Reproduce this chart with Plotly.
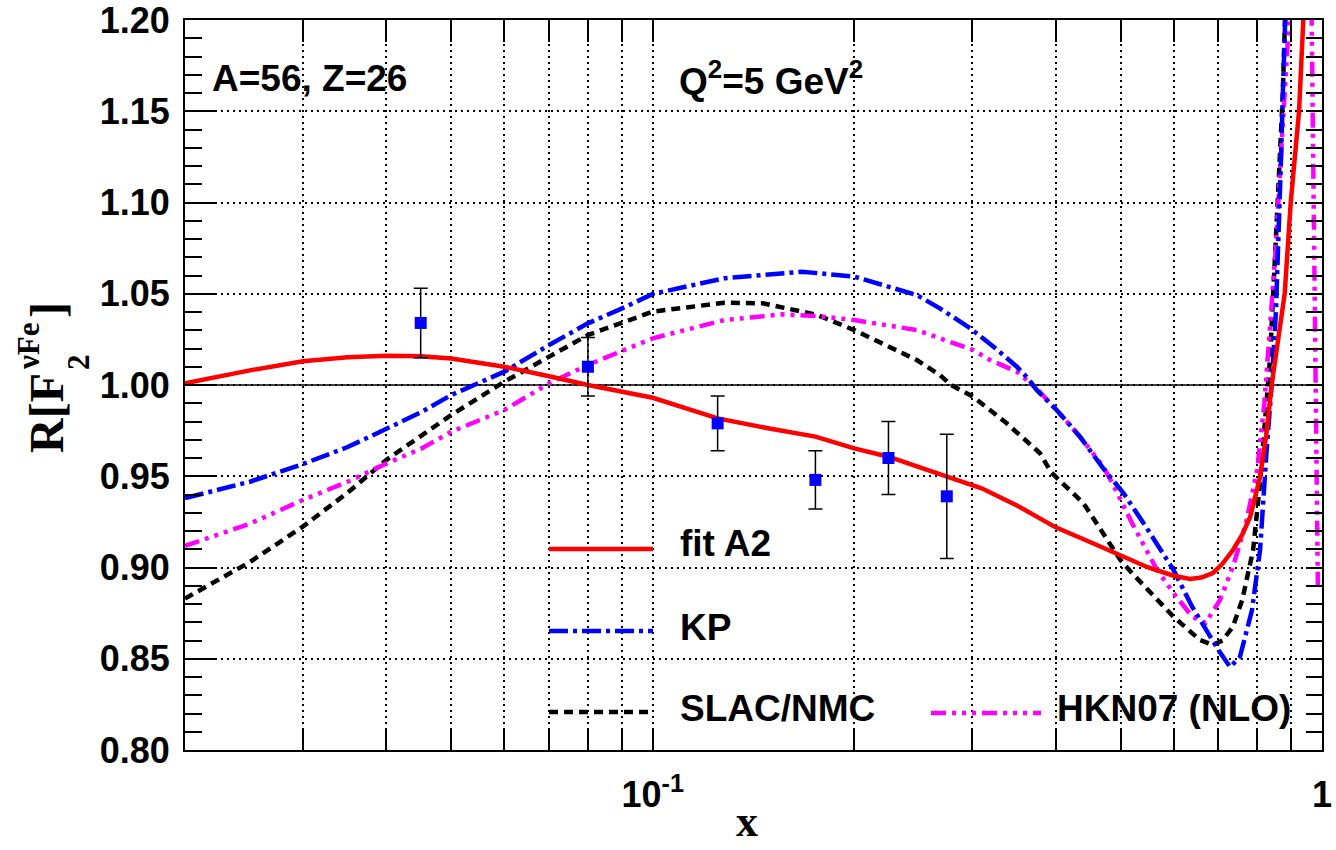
import math
import plotly.graph_objects as go

# ---------------- data ----------------
x_fit = [0.02, 0.025, 0.03, 0.035, 0.04, 0.045, 0.05, 0.06, 0.07, 0.08, 0.1, 0.125, 0.15,
         0.175, 0.2, 0.225, 0.25, 0.275, 0.31, 0.35, 0.4, 0.45, 0.5, 0.55, 0.6, 0.635, 0.66,
         0.687, 0.71, 0.736, 0.76, 0.781, 0.808, 0.825, 0.841, 0.86, 0.8795, 0.898, 0.924,
         0.9377, 0.95]
y_fit = [1.001, 1.008, 1.013, 1.0152, 1.016, 1.0158, 1.0145, 1.010, 1.0048, 1.000, 0.993,
         0.9817, 0.976, 0.9717, 0.9653, 0.9607, 0.955, 0.9498, 0.9434, 0.934, 0.922, 0.914,
         0.9065, 0.900, 0.8955, 0.8937, 0.8945, 0.897, 0.902, 0.9096, 0.918, 0.9277, 0.9496,
         0.972, 1.000, 1.024, 1.050, 1.100, 1.150, 1.200, 1.25]

x_kp = [0.02, 0.025, 0.03, 0.035, 0.04, 0.045, 0.05, 0.06, 0.07, 0.08, 0.09, 0.1, 0.128,
        0.15, 0.167, 0.2, 0.248, 0.2685, 0.281, 0.298, 0.323, 0.35, 0.3637, 0.3746, 0.4013,
        0.4348, 0.4711, 0.505, 0.546, 0.6, 0.64, 0.7, 0.729, 0.754, 0.786, 0.808, 0.8266,
        0.842, 0.8536, 0.8625, 0.8684, 0.8743, 0.8805, 0.8955]
y_kp = [0.938, 0.947, 0.9567, 0.966, 0.976, 0.985, 0.9945, 1.0073, 1.0219, 1.0338, 1.042,
        1.0499, 1.0585, 1.061, 1.0621, 1.0594, 1.0493, 1.042, 1.0374, 1.0311, 1.021, 1.01,
        1.0036, 0.9973, 0.9863, 0.9717, 0.9543, 0.9408, 0.9222, 0.8986, 0.8784, 0.8548,
        0.8455, 0.851, 0.8767, 0.9096, 0.9644, 1.0027, 1.0411, 1.0849, 1.1233, 1.1616, 1.20,
        1.28]

x_slac = [0.02, 0.025, 0.03, 0.035, 0.04, 0.045, 0.05, 0.06, 0.07, 0.08, 0.1, 0.128, 0.146,
          0.176, 0.2, 0.248, 0.2685, 0.279, 0.301, 0.338, 0.379, 0.394, 0.44, 0.5, 0.52, 0.6,
          0.657, 0.687, 0.71, 0.736, 0.76, 0.789, 0.808, 0.836, 0.8506, 0.8595, 0.8654,
          0.8733, 0.8805, 0.89]
y_slac = [0.883, 0.903, 0.9224, 0.941, 0.959, 0.972, 0.9836, 1.0018, 1.0152, 1.0274, 1.0402,
          1.0451, 1.0448, 1.0384, 1.0301, 1.0137, 1.0055, 1.0, 0.9936, 0.979, 0.9626, 0.952,
          0.9353, 0.904, 0.897, 0.873, 0.8603, 0.8575, 0.860, 0.8676, 0.8822, 0.9096, 0.9463,
          1.0137, 1.070, 1.1014, 1.124, 1.157, 1.20, 1.26]

x_hkn = [0.02, 0.025, 0.03, 0.035, 0.04, 0.045, 0.05, 0.06, 0.07, 0.08, 0.1, 0.128, 0.156,
         0.176, 0.2, 0.248, 0.2685, 0.301, 0.319, 0.35, 0.3746, 0.4013, 0.4348, 0.4711, 0.486,
         0.52, 0.567, 0.6, 0.64, 0.67, 0.704, 0.736, 0.77, 0.80, 0.82, 0.836, 0.853, 0.868,
         0.88, 0.893, 0.95, 0.986]
y_hkn = [0.9118, 0.924, 0.937, 0.947, 0.957, 0.965, 0.9744, 0.9863, 1.0009, 1.011, 1.0256,
         1.0356, 1.0387, 1.0378, 1.0356, 1.0301, 1.0256, 1.0192, 1.0137, 1.0073, 0.998,
         0.9863, 0.9717, 0.9553, 0.9463, 0.9244, 0.8986, 0.886, 0.873, 0.8696, 0.8822,
         0.9004, 0.9244, 0.9534, 0.99, 1.03, 1.075, 1.125, 1.16, 1.20, 1.43, 0.887]

x_data = [0.045, 0.080, 0.125, 0.175, 0.225, 0.275]
y_data = [1.034, 1.010, 0.979, 0.948, 0.960, 0.939]
e_data = [0.019, 0.016, 0.015, 0.016, 0.020, 0.034]

x_minor_ticks = [0.03, 0.04, 0.05, 0.06, 0.07, 0.08, 0.09, 0.2, 0.3, 0.4, 0.5, 0.6,
                 0.7, 0.8, 0.9]
x_major_ticks = [0.1, 1.0]
x_major_text = ["10<sup>-1</sup>", "1"]
y_major_ticks = [0.80, 0.85, 0.90, 0.95, 1.00, 1.05, 1.10, 1.15, 1.20]

legend_names = ["fit A2", "KP", "SLAC/NMC", "HKN07 (NLO)"]

# ---------------- styling ----------------
W, H = 1336, 850
L, R, T, B = 185, 14, 20, 100
PW, PH = W - L - R, H - T - B


def fx(p):
    return (p - L) / PW


def fy(p):
    return (H - B - p) / PH


RED, BLUE, BLACK, MAG = "#ff0000", "#0000ff", "#000000", "#ff00ff"
LW = 4.5
DASH_KP = "19px,5px,4px,5px"
DASH_SLAC = "9px,6px"
DASH_HKN = "15px,6px,4px,6px,4px,6px,4px,6px"
SANS = "Liberation Sans"
SERIF = "Liberation Serif"

fig = go.Figure()
fig.add_trace(go.Scatter(x=x_slac, y=y_slac, mode="lines", showlegend=False,
                         line=dict(color=BLACK, width=LW, dash=DASH_SLAC)))
fig.add_trace(go.Scatter(x=x_hkn, y=y_hkn, mode="lines", showlegend=False,
                         line=dict(color=MAG, width=LW, dash=DASH_HKN)))
fig.add_trace(go.Scatter(x=x_kp, y=y_kp, mode="lines", showlegend=False,
                         line=dict(color=BLUE, width=LW, dash=DASH_KP)))
fig.add_trace(go.Scatter(x=x_fit, y=y_fit, mode="lines", showlegend=False,
                         line=dict(color=RED, width=LW)))
fig.add_trace(go.Scatter(x=x_data, y=y_data, mode="markers", showlegend=False,
                         xaxis="x", yaxis="y2",
                         marker=dict(symbol="square", size=12, color=BLUE),
                         error_y=dict(type="data", array=e_data, color=BLACK,
                                      thickness=1.5, width=7)))

xr = [math.log10(0.02), 0.0]
yr = [0.8, 1.2000001]
tickfont = dict(family=SANS, size=36, color="black", weight="bold")
GRID = dict(gridcolor="black", gridwidth=1.5, griddash="2px,4px")

fig.update_layout(
    width=W, height=H, margin=dict(l=L, r=R, t=T, b=B, autoexpand=False),
    paper_bgcolor="white", plot_bgcolor="white", showlegend=False,
    xaxis=dict(type="log", range=xr, tickmode="array", tickvals=x_major_ticks,
               ticktext=x_major_text, ticks="inside", ticklen=22, tickwidth=2,
               tickcolor="black", showgrid=True, **GRID,
               minor=dict(tickmode="array", tickvals=x_minor_ticks, ticks="inside",
                          ticklen=13, tickwidth=2, tickcolor="black", showgrid=True,
                          **GRID),
               showline=True, linecolor="black", linewidth=2, mirror="allticks",
               zeroline=False, tickfont=tickfont, ticklabelstandoff=12,
               ticklabeloverflow="allow", automargin=False),
    yaxis=dict(range=yr, tickmode="array", tickvals=y_major_ticks, tickformat=".2f",
               ticks="inside", ticklen=32, tickwidth=2, tickcolor="black",
               minor=dict(dtick=0.01, tick0=0.8, ticks="inside", ticklen=17,
                          tickwidth=2, tickcolor="black", showgrid=False),
               showgrid=True, **GRID,
               showline=True, linecolor="black", linewidth=2, mirror=True,
               zeroline=False, tickfont=tickfont, ticklabelstandoff=6,
               ticklabeloverflow="allow", automargin=False),
    yaxis2=dict(range=yr, overlaying="y", anchor="x", side="right", tickmode="linear",
                tick0=0.8, dtick=0.01, ticks="inside", ticklen=16, tickwidth=2,
                tickcolor="black", showticklabels=False, showgrid=False,
                showline=False, zeroline=False, automargin=False),
)

# reference line at 1.00
fig.add_shape(type="line", xref="paper", yref="y", x0=0, x1=1, y0=1.0, y1=1.0,
              line=dict(color="black", width=1.5), layer="below")

# hand-made legend
leg = [
    (legend_names[0], RED, None, 549, 653, 549, 678, 543),
    (legend_names[1], BLUE, DASH_KP, 549, 653, 631, 678, 627),
    (legend_names[2], BLACK, DASH_SLAC, 549, 653, 712, 678, 708),
    (legend_names[3], MAG, DASH_HKN, 931, 1041, 713, 1055, 708),
]
for name, col, dash, x0, x1, yl, xt, yt in leg:
    ln = dict(color=col, width=LW)
    if dash:
        ln["dash"] = dash
    fig.add_shape(type="line", xref="paper", yref="paper", x0=fx(x0), x1=fx(x1),
                  y0=fy(yl), y1=fy(yl), line=ln)
    fig.add_annotation(xref="paper", yref="paper", x=fx(xt), y=fy(yt), text=name,
                       showarrow=False, xanchor="left", yanchor="middle",
                       font=dict(family=SANS, size=37, color="black", weight="bold"))

txtfont = dict(family=SANS, size=37, color="black", weight="bold")
fig.add_annotation(xref="paper", yref="paper", x=fx(210), y=fy(79), text="A=56, Z=26",
                   showarrow=False, xanchor="left", yanchor="middle", font=txtfont)
fig.add_annotation(xref="paper", yref="paper", x=fx(677), y=fy(79),
                   text="Q<sup>2</sup>=5 GeV<sup>2</sup>",
                   showarrow=False, xanchor="left", yanchor="middle", font=txtfont)

# axis titles
serif_b = dict(family=SERIF, color="black", weight="bold")
fig.add_annotation(xref="paper", yref="paper", x=fx(747), y=fy(821), text="x",
                   showarrow=False, xanchor="center", yanchor="middle",
                   font=dict(size=44, **serif_b))
fig.add_annotation(xref="paper", yref="paper", x=fx(47), y=fy(455), text="R[F",
                   textangle=-90, showarrow=False, xanchor="center", yanchor="bottom",
                   font=dict(size=48, **serif_b))
fig.add_annotation(xref="paper", yref="paper", x=fx(28), y=fy(372), text="νFe",
                   textangle=-90, showarrow=False, xanchor="center", yanchor="bottom",
                   font=dict(size=31, **serif_b))
fig.add_annotation(xref="paper", yref="paper", x=fx(78), y=fy(372), text="2",
                   textangle=-90, showarrow=False, xanchor="center", yanchor="bottom",
                   font=dict(size=31, **serif_b))
fig.add_annotation(xref="paper", yref="paper", x=fx(47), y=fy(320), text="]",
                   textangle=-90, showarrow=False, xanchor="center", yanchor="bottom",
                   font=dict(size=48, **serif_b))

fig.write_html("out.html")
